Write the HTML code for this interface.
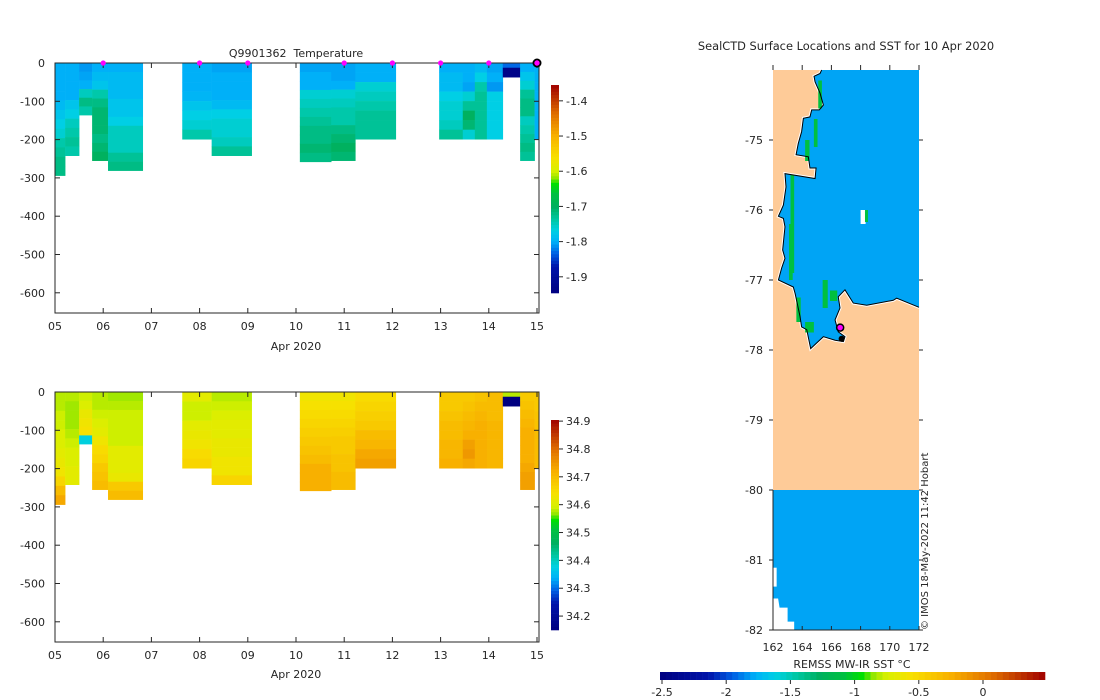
<!DOCTYPE html>
<html><head><meta charset="utf-8"><style>
html,body{margin:0;padding:0;background:#fff;}
svg{display:block;font-family:"DejaVu Sans","Liberation Sans",sans-serif;}
text{fill:#262626;font-size:11px;}
</style></head><body>
<svg id="fig" width="1100" height="700" viewBox="0 0 1100 700" xmlns="http://www.w3.org/2000/svg">
<g id="tempPlot"></g>
<g id="salPlot"></g>
<g id="mapPlot"></g>
<text x="296" y="57" text-anchor="middle" xml:space="preserve">Q9901362  Temperature</text>
<text x="296" y="350" text-anchor="middle">Apr 2020</text>
<text x="296" y="678" text-anchor="middle">Apr 2020</text>
<text x="846" y="50" text-anchor="middle" style="font-size:11.4px">SealCTD Surface Locations and SST for 10 Apr 2020</text>
<text x="852" y="668" text-anchor="middle">REMSS MW-IR SST °C</text>
<text x="0" y="0" transform="translate(928,630) rotate(-90)" style="font-size:10px">© IMOS 18-May-2022 11:42 Hobart</text>
</svg>
<script>
// ---------- data ----------
const profStart = [5.01,5.21,5.50,5.77,6.10,7.64,8.25,10.08,10.73,11.23,12.97,13.46,13.71,13.96,14.29,14.65,14.95];
const profEnd   = [5.21,5.50,5.77,6.10,6.82,8.25,9.08,10.73,11.23,12.07,13.46,13.71,13.96,14.29,14.65,14.95,15.03];
const profDepth = [294,242,136,255,281,199,242,258,255,199,199,199,199,199,37,255,199];
const tempVals = [
 [-1.80,-1.80,-1.80,-1.80,-1.79,-1.78,-1.77,-1.76,-1.74,-1.73,-1.72,-1.72],
 [-1.80,-1.80,-1.80,-1.80,-1.78,-1.77,-1.75,-1.74,-1.73,-1.74],
 [-1.81,-1.805,-1.80,-1.75,-1.72,-1.74],
 [-1.80,-1.79,-1.78,-1.74,-1.72,-1.71,-1.71,-1.71,-1.72,-1.71,-1.70],
 [-1.80,-1.79,-1.79,-1.79,-1.78,-1.78,-1.77,-1.75,-1.75,-1.75,-1.73,-1.72],
 [-1.80,-1.80,-1.80,-1.795,-1.78,-1.77,-1.76,-1.74],
 [-1.805,-1.80,-1.80,-1.80,-1.79,-1.77,-1.76,-1.76,-1.75,-1.73],
 [-1.805,-1.80,-1.80,-1.76,-1.75,-1.74,-1.73,-1.72,-1.72,-1.71,-1.72],
 [-1.805,-1.805,-1.80,-1.76,-1.75,-1.74,-1.74,-1.72,-1.71,-1.70,-1.71],
 [-1.80,-1.80,-1.76,-1.75,-1.74,-1.73,-1.73,-1.73],
 [-1.80,-1.79,-1.79,-1.77,-1.76,-1.76,-1.75,-1.73],
 [-1.80,-1.80,-1.805,-1.76,-1.73,-1.70,-1.71,-1.76],
 [-1.79,-1.77,-1.74,-1.73,-1.73,-1.73,-1.73,-1.73],
 [-1.805,-1.80,-1.81,-1.77,-1.77,-1.77,-1.77,-1.77],
 [-1.83,-1.93,-1.93],
 [-1.80,-1.78,-1.76,-1.73,-1.72,-1.72,-1.75,-1.74,-1.73,-1.72,-1.73],
 [-1.80,-1.80,-1.80,-1.80,-1.80,-1.80,-1.80,-1.80]
];
const salVals = [
 [34.58,34.58,34.59,34.59,34.60,34.60,34.61,34.62,34.63,34.66,34.70,34.73],
 [34.58,34.57,34.57,34.57,34.58,34.59,34.60,34.60,34.61,34.61],
 [34.59,34.60,34.62,34.63,34.64,34.38],
 [34.58,34.58,34.59,34.60,34.61,34.63,34.65,34.66,34.68,34.69,34.70],
 [34.57,34.58,34.59,34.59,34.59,34.59,34.61,34.61,34.61,34.62,34.68,34.70],
 [34.61,34.59,34.59,34.61,34.62,34.63,34.65,34.66],
 [34.58,34.59,34.60,34.61,34.61,34.62,34.62,34.63,34.63,34.66],
 [34.63,34.64,34.65,34.66,34.67,34.68,34.69,34.70,34.72,34.72,34.72],
 [34.63,34.64,34.65,34.66,34.67,34.68,34.68,34.69,34.69,34.70,34.70],
 [34.65,34.66,34.67,34.68,34.70,34.71,34.73,34.74],
 [34.68,34.68,34.69,34.70,34.70,34.71,34.71,34.72],
 [34.68,34.69,34.70,34.71,34.72,34.74,34.75,34.73],
 [34.69,34.70,34.71,34.72,34.72,34.72,34.72,34.72],
 [34.70,34.70,34.70,34.71,34.71,34.71,34.71,34.71],
 [34.58,34.15,34.15],
 [34.68,34.69,34.70,34.71,34.72,34.72,34.72,34.72,34.73,34.74,34.74],
 [34.68,34.68,34.69,34.69,34.70,34.70,34.70,34.70]
];
const surfaceDays = [6,8,9,11,12,13,14];
const lastSurfaceDay = 15;
const dayTicks = [5,6,7,8,9,10,11,12,13,14,15];
const dayLabels = ["05","06","07","08","09","10","11","12","13","14","15"];
const depthTicks = [0,-100,-200,-300,-400,-500,-600];
const tempTicks = [-1.4,-1.5,-1.6,-1.7,-1.8,-1.9];
const salTicks = [34.9,34.8,34.7,34.6,34.5,34.4,34.3,34.2];
const sstTicks = [-2.5,-2,-1.5,-1,-0.5,0];
const sstTickLabels = ["-2.5","-2","-1.5","-1","-0.5","0"];
const lonTicks = [162,164,166,168,170,172];
const latTicks = [-75,-76,-77,-78,-79,-80,-81,-82];
const coastLon = [165.33,165.22,164.81,164.88,165.22,165.45,165.17,164.65,164.53,164.08,163.96,163.73,163.58,164.42,164.53,164.95,164.88,162.82,162.89,162.71,162.37,162.71,162.82,162.66,162.82,162.59,162.37,163.39,163.51,163.85,163.96,164.31,164.58,165.45,166.25,166.82,166.93,166.47,166.25,166.59,166.47,166.93,167.50,168.42,170.24,170.47,172.0];
const coastLat = [-74.00,-74.05,-74.09,-74.17,-74.33,-74.50,-74.57,-74.57,-74.67,-74.69,-74.88,-75.05,-75.21,-75.24,-75.40,-75.40,-75.55,-75.48,-75.67,-75.93,-76.09,-76.12,-76.24,-76.57,-76.69,-76.83,-77.00,-77.10,-77.19,-77.52,-77.67,-77.71,-77.98,-77.81,-77.86,-77.88,-77.81,-77.74,-77.57,-77.40,-77.24,-77.14,-77.33,-77.36,-77.29,-77.26,-77.39];
const sealLon = 166.6, sealLat = -77.68;
const seaSST = -1.79;

// ---------- colormap ----------
const stops=[[0,[0,0,128]],[0.127,[0,20,170]],[0.19,[0,96,228]],[0.247,[0,176,248]],[0.30,[0,208,228]],[0.35,[0,200,168]],[0.414,[0,176,96]],[0.478,[0,192,64]],[0.525,[0,224,0]],[0.557,[160,232,0]],[0.589,[216,240,0]],[0.653,[248,224,0]],[0.756,[248,176,0]],[0.86,[224,112,0]],[1,[160,0,0]]];
function cmap(t){t=Math.max(0,Math.min(1,t));for(let i=1;i<stops.length;i++){if(t<=stops[i][0]){const a=stops[i-1],b=stops[i];const f=(t-a[0])/(b[0]-a[0]);const c=a[1].map((v,k)=>Math.round(v+(b[1][k]-v)*f));return `rgb(${c[0]},${c[1]},${c[2]})`;}}return 'rgb(160,0,0)';}
const NS='http://www.w3.org/2000/svg';
function mk(tag,attrs,parent){const e=document.createElementNS(NS,tag);for(const k in attrs)e.setAttribute(k,attrs[k]);parent.appendChild(e);return e;}

// ---------- section plots ----------
function section(g, y0, vals, vmin, vmax, ticks, cbTop, cbBot, markers){
  const xL=55, xR=539, yB=y0+250;
  const xS=d=>55+(d-5)*48.2;
  const yS=z=>y0-z*0.383;
  for(let i=0;i<profStart.length;i++){
    const v=vals[i], n=v.length, dz=profDepth[i]/n;
    for(let j=0;j<n;j++){
      const r=mk('rect',{x:xS(profStart[i]),y:yS(-j*dz),width:xS(profEnd[i])-xS(profStart[i])+0.3,height:dz*0.383+0.3,fill:cmap((v[j]-vmin)/(vmax-vmin))},g);
      
      
    }
  }
  mk('rect',{x:xL,y:y0,width:xR-xL,height:yB-y0,fill:'none',stroke:'#262626','stroke-width':1},g);
  dayTicks.forEach((d,i)=>{const x=xS(d);
    mk('line',{x1:x,y1:y0,x2:x,y2:y0+5,stroke:'#262626'},g);
    mk('line',{x1:x,y1:yB,x2:x,y2:yB-5,stroke:'#262626'},g);
    const t=mk('text',{x:x,y:yB+17,'text-anchor':'middle'},g);t.textContent=dayLabels[i];
    });
  depthTicks.forEach(z=>{const y=yS(z);
    mk('line',{x1:xL,y1:y,x2:xL+5,y2:y,stroke:'#262626'},g);
    mk('line',{x1:xR,y1:y,x2:xR-5,y2:y,stroke:'#262626'},g);
    const t=mk('text',{x:45,y:y+4,'text-anchor':'end'},g);t.textContent=z;
    });
  const cx=551,cw=8,N=64,h=cbBot-cbTop;
  for(let k=0;k<N;k++){mk('rect',{x:cx,y:cbBot-(k+1)*h/N,width:cw,height:h/N+0.3,fill:cmap((k+0.5)/N)},g);}
  const cy=v=>cbBot-(v-vmin)/(vmax-vmin)*h;
  ticks.forEach(v=>{const y=cy(v);
    mk('line',{x1:cx+cw,y1:y,x2:cx+cw+4,y2:y,stroke:'#262626'},g);
    const t=mk('text',{x:cx+cw+7,y:y+4},g);t.textContent=v.toFixed(1);
    });
  if(markers){
    surfaceDays.forEach(d=>{const c=mk('circle',{cx:xS(d),cy:y0,r:2.6,fill:'#ff00ff'},g);
      });
    const c=mk('circle',{cx:xS(lastSurfaceDay),cy:y0,r:3.6,fill:'#ff00ff',stroke:'#000','stroke-width':1.8},g);
    
  }
}
section(document.getElementById('tempPlot'),63,tempVals,-1.946,-1.355,tempTicks,85,293,true);
section(document.getElementById('salPlot'),392,salVals,34.15,34.904,salTicks,420,630,false);

// ---------- map ----------
(function(){
  const g=document.getElementById('mapPlot');
  const lx=lon=>773+(lon-162)*14.6;
  const ly=lat=>70+(-74-lat)*70;
  const land='#fecb98', sea=cmap((seaSST+2.5)/2.98);
  mk('rect',{x:lx(162),y:ly(-74),width:lx(172)-lx(162),height:ly(-80)-ly(-74),fill:land},g);
  let pts=[[165.9,-74],[172,-74]];
  for(let i=coastLon.length-1;i>=0;i--)pts.push([coastLon[i],coastLat[i]]);
  const ws=pts.map(p=>lx(p[0])+','+ly(p[1])).join(' ');
  mk('polygon',{points:ws,fill:'#fff'},g);
  const wp=mk('polygon',{points:ws,fill:sea,stroke:'#fff','stroke-width':3,'paint-order':'stroke'},g);
  
  const greens=[[165.1,-74.15,0.25,0.4],[164.8,-74.7,0.25,0.4],[164.2,-75.0,0.3,0.3],[163.2,-75.5,0.25,1.4],[163.1,-76.2,0.25,0.8],[163.6,-77.25,0.3,0.35],[164.2,-77.6,0.6,0.15],[165.4,-77.0,0.35,0.4],[165.9,-77.15,0.5,0.15]];
  greens.forEach(a=>{const r=mk('rect',{x:lx(a[0]),y:ly(a[1]),width:a[2]*14.6,height:a[3]*70,fill:'#00c040'},g);
    });
  mk('rect',{x:lx(168.0),y:ly(-76.0),width:5,height:14,fill:'#fff'},g);
  mk('rect',{x:lx(168.3),y:ly(-76.0),width:3,height:12,fill:'#00c040'},g);
  const cl=mk('polyline',{points:coastLon.map((v,i)=>lx(v)+','+ly(coastLat[i])).join(' '),fill:'none',stroke:'#000','stroke-width':1},g);
  
  mk('rect',{x:lx(162),y:ly(-80),width:lx(172)-lx(162),height:ly(-82)-ly(-80),fill:sea},g);
  mk('polygon',{points:[[162,-81.11],[162.25,-81.11],[162.25,-81.38],[162,-81.38]].map(p=>lx(p[0])+','+ly(p[1])).join(' '),fill:'#fff'},g);
  mk('polygon',{points:[[162,-81.55],[162.35,-81.55],[162.45,-81.68],[163.0,-81.68],[163.0,-81.88],[163.45,-81.88],[163.45,-82],[162,-82]].map(p=>lx(p[0])+','+ly(p[1])).join(' '),fill:'#fff'},g);
  mk('circle',{cx:lx(sealLon+0.1),cy:ly(sealLat-0.16),r:3,fill:'#000'},g);
  const s=mk('circle',{cx:lx(sealLon),cy:ly(sealLat),r:3.5,fill:'#ff00ff',stroke:'#000','stroke-width':1.5},g);
  
  const x0=lx(162),x1=lx(172),y0=ly(-74),y1=ly(-82);
  mk('line',{x1:x0,y1:ly(-80),x2:x0,y2:y1,stroke:'#262626'},g);
  mk('line',{x1:x0,y1:y1,x2:x1,y2:y1,stroke:'#262626'},g);
  lonTicks.forEach(v=>{const x=lx(v);
    mk('line',{x1:x,y1:y1,x2:x,y2:y1-4,stroke:'#262626'},g);
    mk('line',{x1:x,y1:y0,x2:x,y2:y0-5,stroke:'#262626'},g);
    const t=mk('text',{x:x,y:y1+21,'text-anchor':'middle'},g);t.textContent=v;
    });
  latTicks.forEach(v=>{const y=ly(v);
    mk('line',{x1:x0,y1:y,x2:x0-4,y2:y,stroke:'#262626'},g);
    mk('line',{x1:x1,y1:y,x2:x1+4,y2:y,stroke:'#262626'},g);
    const t=mk('text',{x:763,y:y+4,'text-anchor':'end'},g);t.textContent=v;
    });
  const bx=v=>662+(v+2.5)*128.4;
  const N=64,L=660,R=1045;
  for(let k=0;k<N;k++){mk('rect',{x:L+k*(R-L)/N,y:672,width:(R-L)/N+0.3,height:8,fill:cmap((k+0.5)/N)},g);}
  sstTicks.forEach((v,i)=>{const x=bx(v);
    mk('line',{x1:x,y1:680,x2:x,y2:684,stroke:'#262626'},g);
    const t=mk('text',{x:x,y:696,'text-anchor':'middle'},g);t.textContent=sstTickLabels[i];
    });
})();
</script>
</body></html>
